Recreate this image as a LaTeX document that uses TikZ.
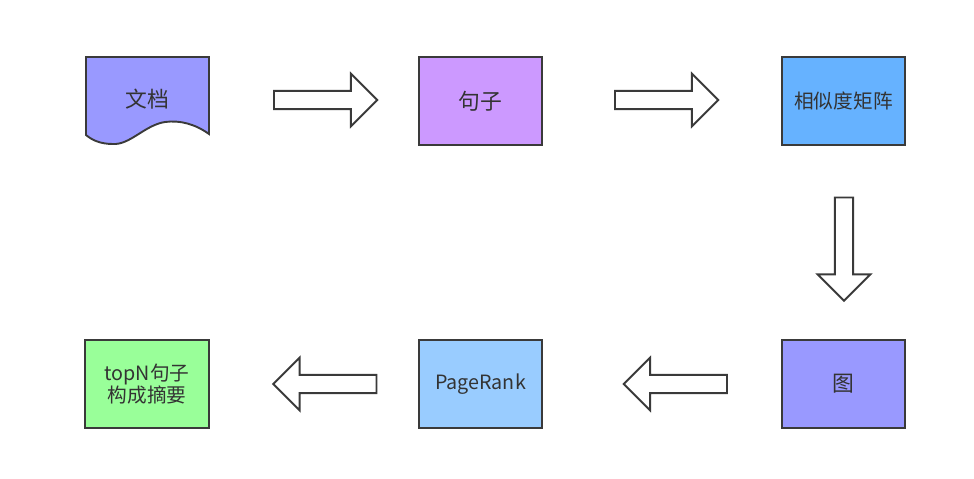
\documentclass[tikz,border=0pt]{standalone}
\usepackage{fontspec}
\setmainfont{Noto Sans CJK SC}
\usetikzlibrary{positioning, shapes.arrows}
\usepackage{xcolor}
\definecolor{linegray}{HTML}{3A3A3A}
\definecolor{textgray}{HTML}{333333}
\definecolor{docblue}{HTML}{9999FF}
\definecolor{sentpurple}{HTML}{CC99FF}
\definecolor{simblue}{HTML}{66B2FF}
\definecolor{prblue}{HTML}{99CCFF}
\definecolor{topgreen}{HTML}{99FF99}

\tikzset{
  box/.style={draw=linegray, line width=1.35pt, minimum width=3.08cm, minimum height=2.18cm, inner sep=0pt, text=textgray, align=center},
  bigarrow/.style={single arrow, draw=linegray, fill=white, line width=1.35pt, minimum height=2.58cm, single arrow head extend=0.43cm, inner xsep=0pt, inner ysep=0.205cm},
  bigfont/.style={font=\fontsize{15.5}{18}\selectfont},
  smallfont/.style={font=\fontsize{14}{15.6}\selectfont},
}

\begin{document}
\begin{tikzpicture}[x=0.025cm, y=-0.025cm]
        \useasboundingbox (0,0) rectangle (974,479); % page size

        % document shape with wavy bottom
        \draw[fill=docblue, draw=linegray, line width=1.35pt] (86,57) -- (209,57) -- (209,134)
            .. controls (195,124) and (180,120) .. (165,122)
            .. controls (145,125) and (130,145) .. (113,144)
            .. controls (100,144) and (92,140) .. (86,135) -- cycle;
        \node[bigfont, text=textgray] (doc) at (147,99) {文档};

        % boxes of the top row
        \node[box, fill=sentpurple, bigfont] (sent) at (480.5,101) {句子};
        \node[box, fill=simblue, smallfont] (sim) at (843.5,101) {相似度矩阵};

        % boxes of the bottom row
        \node[box, fill=docblue, bigfont] (graph) at (843.5,384) {图};
        \node[box, fill=prblue, smallfont] (pr) at (480.5,384) {PageRank};
        \node[box, fill=topgreen, smallfont] (topn) at (147,384) {topN句子\\构成摘要};

        % block arrows between the steps
        \node[bigarrow] (a1) at (321,100) {}; % doc to sentences
        \node[bigarrow] (a2) at (662,100) {}; % sentences to matrix
        \node[bigarrow, rotate=-90] (a3) at (844,244.5) {}; % matrix to graph
        \node[bigarrow, rotate=180] (a4) at (680,384) {}; % graph to pagerank
        \node[bigarrow, rotate=180] (a5) at (329.5,384) {}; % pagerank to summary
    \end{tikzpicture}
\end{document}
